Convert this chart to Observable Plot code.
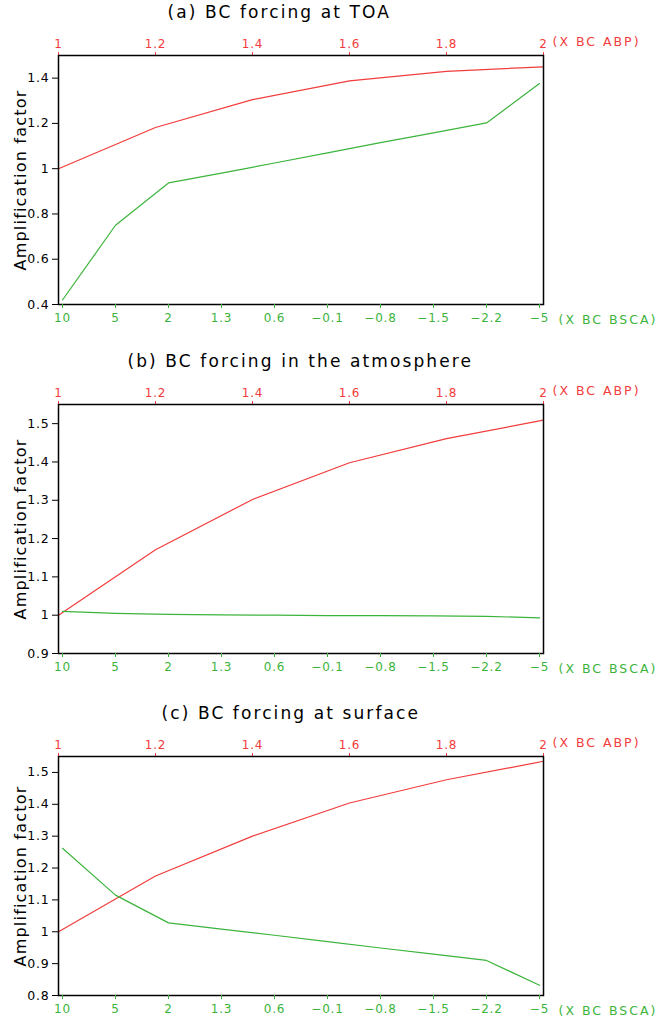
<!DOCTYPE html>
<html><head><meta charset="utf-8">
<script src="https://cdn.jsdelivr.net/npm/d3@7"></script>
<script src="https://cdn.jsdelivr.net/npm/@observablehq/plot@0.6"></script>
<style>
body{margin:0;background:#fff;}
#root{position:relative;width:656px;height:1020px;overflow:hidden;background:#fff;}
#root svg{position:absolute;left:0;}
#root svg text{letter-spacing:0.8px;}
</style></head><body><div id="root"></div>
<script>
// Bottom (green) axis categories: BC BSCA scaling
const bscaLabels = ["10","5","2","1.3","0.6","−0.1","−0.8","−1.5","−2.2","−5"];
// Top (red) axis: BC ABP scaling
const abpValues = [1, 1.2, 1.4, 1.6, 1.8, 2];
const abpTicks = [1, 1.2, 1.4, 1.6, 1.8, 2];

// (a) TOA
const redA   = [1.0, 1.182, 1.305, 1.388, 1.43, 1.45];
const greenA = [0.42, 0.75, 0.937, 0.98, 1.025, 1.07, 1.115, 1.158, 1.202, 1.376];
// (b) atmosphere
const redB   = [1.0, 1.171, 1.302, 1.398, 1.461, 1.509];
const greenB = [1.01, 1.005, 1.002, 1.001, 1.0, 0.999, 0.999, 0.998, 0.997, 0.993];
// (c) surface
const redC   = [1.0, 1.175, 1.30, 1.404, 1.477, 1.535];
const greenC = [1.262, 1.115, 1.028, 1.008, 0.989, 0.969, 0.949, 0.93, 0.91, 0.832];

const yTicksA = [0.4, 0.6, 0.8, 1, 1.2, 1.4];
const yTicksB = [0.9, 1, 1.1, 1.2, 1.3, 1.4, 1.5];
const yTicksC = [0.8, 0.9, 1, 1.1, 1.2, 1.3, 1.4, 1.5];

const titles = ["(a) BC forcing at TOA", "(b) BC forcing in the atmosphere", "(c) BC forcing at surface"];

const RED = "#f23c3c", GREEN = "#3cb43c";
const W = 656, ML = 58, MR = 113;
const FONT = "DejaVu Sans";

const panels = [
  {title: titles[0], titleDx: 109, top: 0,   height: 340, mt: 55, mb: 36, yDomain: [0.4, 1.5],  yTicks: yTicksA, red: redA, green: greenA},
  {title: titles[1], titleDx: 69,  top: 340, height: 350, mt: 64, mb: 37, yDomain: [0.9, 1.55], yTicks: yTicksB, red: redB, green: greenB},
  {title: titles[2], titleDx: 103, top: 690, height: 330, mt: 66, mb: 25, yDomain: [0.8, 1.55], yTicks: yTicksC, red: redC, green: greenC}
];

const root = document.getElementById("root");
const fmt = d3.format("~g");

for (const p of panels) {
  const redData = abpValues.map((x, i) => ({x, v: p.red[i]}));
  const greenData = bscaLabels.map((c, i) => ({c, v: p.green[i]}));
  const common = {
    width: W, height: p.height,
    marginLeft: ML, marginRight: MR, marginTop: p.mt, marginBottom: p.mb,
    style: {fontFamily: FONT, fontSize: "12px", background: "transparent", overflow: "visible"}
  };
  const svgRed = Plot.plot({
    ...common,
    x: {domain: [1, 2]},
    y: {domain: p.yDomain},
    marks: [
      Plot.axisX({anchor: "top", ticks: abpTicks, tickFormat: fmt, tickSize: 4, tickPadding: 4, color: RED, label: null}),
      Plot.axisY({ticks: p.yTicks, tickFormat: fmt, tickSize: 6, tickPadding: 3, label: null, fontSize: 12.5}),
      Plot.line(redData, {x: "x", y: "v", stroke: RED, strokeWidth: 1.2}),
      Plot.frame({stroke: "black", strokeWidth: 1.5}),
      Plot.text([p.title], {frameAnchor: "top-left", dx: p.titleDx, dy: -43, textAnchor: "start", lineAnchor: "middle", fontSize: 17, fill: "black"}),
      Plot.text(["(X BC ABP)"], {frameAnchor: "top-right", dx: 9, dy: -14, textAnchor: "start", lineAnchor: "middle", fontSize: 12.5, fill: RED}),
      Plot.text(["Amplification factor"], {frameAnchor: "left", dx: -38, rotate: -90, textAnchor: "middle", lineAnchor: "middle", fontSize: 16, fill: "black"})
    ]
  });
  const svgGreen = Plot.plot({
    ...common,
    x: {type: "point", domain: bscaLabels, padding: 0},
    y: {domain: p.yDomain, axis: null},
    marks: [
      Plot.axisX({anchor: "bottom", tickSize: 4, tickPadding: 5, color: GREEN, label: null}),
      Plot.line(greenData, {x: "c", y: "v", stroke: GREEN, strokeWidth: 1.2}),
      Plot.text(["(X BC BSCA)"], {frameAnchor: "bottom-right", dx: 15, dy: 15, textAnchor: "start", lineAnchor: "middle", fontSize: 12.5, fill: GREEN})
    ]
  });
  for (const s of [svgRed, svgGreen]) {
    s.style.top = p.top + "px";
    root.appendChild(s);
  }
  d3.select(svgRed).selectAll("text").filter(function() { return this.textContent === p.title; }).style("letter-spacing", "2.1px");
  d3.select(svgRed).selectAll("text").filter(function() { return this.textContent === "Amplification factor"; }).style("letter-spacing", "1.2px");
  d3.select(svgRed).selectAll("text").filter(function() { return this.textContent === "(X BC ABP)"; }).style("letter-spacing", "2px");
  d3.select(svgGreen).selectAll("text").filter(function() { return this.textContent === "(X BC BSCA)"; }).style("letter-spacing", "2px");
}
</script></body></html>
